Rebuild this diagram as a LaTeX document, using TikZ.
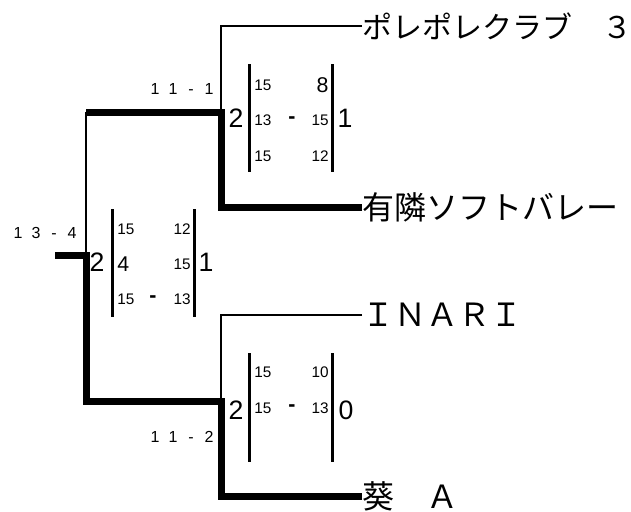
\documentclass[tikz,border=0pt]{standalone}
\usepackage{fontspec}
\setmainfont{Liberation Sans}
\newfontfamily\jp{Noto Sans CJK JP}
\newcommand{\gap}[1]{\makebox[13.5pt]{#1}}

\begin{document}
\begin{tikzpicture}[x=0.75pt, y=-0.75pt, semithick]
    \tikzstyle{team}=[anchor=west, inner sep=0pt, font=\jp\fontsize{24}{28}\selectfont]
    \tikzstyle{lose}=[line width=1pt]
    \tikzstyle{win}=[line width=5.25pt]
    \tikzstyle{bar}=[line width=2.25pt]
    \tikzstyle{big}=[inner sep=0pt, font=\fontsize{20}{24}\selectfont]
    \tikzstyle{mid}=[inner sep=0pt, font=\fontsize{16}{19}\selectfont]
    \tikzstyle{small}=[inner sep=0pt, font=\fontsize{11.5}{14}\selectfont]
    \tikzstyle{games}=[inner sep=0pt, font=\fontsize{12}{14}\selectfont]
    \useasboundingbox (0,0) rectangle (631,511);

    % teams
    \node[team, font=\jp\fontsize{22.5}{27}\selectfont] (t1) at (362,26) {ポレポレクラブ　３};
    \node[team] (t2) at (362,207) {有隣ソフトバレー};
    \node[team] (t3) at (362,315) {ＩＮＡＲＩ};
    \node[team] (t4) at (362,496) {葵　Ａ};

    % junctions
    \coordinate (s1)   at (221,112);
    \coordinate (s2)   at (221,401);
    \coordinate (f1)   at (86,112);
    \coordinate (f2)   at (86,401);
    \coordinate (f)    at (86,255);
    \coordinate (root) at (55,255);

    \draw[lose] (t1.west) -| (s1);
    \draw[lose] (t3.west) -| (s2);
    \draw[win]  (t2.west) -| (s1) -- (f1);
    \draw[lose] (f1) -- (f);
    \draw[win]  (t4.west) -| (s2) -- (f2) -- (f) -- (root);

    % final
    \node[games] (g_f) at (45,233) {\gap1\gap3\gap-\gap4};
    \draw[bar] (112,209) -- (112,317)  (194,209) -- (194,317);
    \node[big] (f_l) at (97,262)  {2};
    \node[big] (f_r) at (206,262) {1};
    \node[small, anchor=west] (f_11) at (117,229) {15};
    \node[small, anchor=east] (f_12) at (191,229) {12};
    \node[mid,   anchor=west] (f_21) at (117,264) {4};
    \node[small, anchor=east] (f_22) at (191,264) {15};
    \node[small, anchor=west] (f_31) at (117,299) {15};
    \node[mid]                (f_3d) at (153,299) {\textbf{-}};
    \node[small, anchor=east] (f_32) at (191,299) {13};

    % upper semifinal
    \node[games] (g_u) at (182,89) {\gap1\gap1\gap-\gap1};
    \draw[bar] (249,64) -- (249,172)  (332,64) -- (332,172);
    \node[big] (u_l) at (236,118) {2};
    \node[big] (u_r) at (345,118) {1};
    \node[small, anchor=west] (u_11) at (254,85)  {15};
    \node[mid,   anchor=east] (u_12) at (329,85)  {8};
    \node[small, anchor=west] (u_21) at (254,120) {13};
    \node[mid]                (u_2d) at (292,120) {\textbf{-}};
    \node[small, anchor=east] (u_22) at (329,120) {15};
    \node[small, anchor=west] (u_31) at (254,156) {15};
    \node[small, anchor=east] (u_32) at (329,156) {12};

    % lower semifinal
    \node[games] (g_l) at (182,437) {\gap1\gap1\gap-\gap2};
    \draw[bar] (249,353) -- (249,462)  (332,353) -- (332,462);
    \node[big] (l_l) at (236,410) {2};
    \node[big] (l_r) at (346,410) {0};
    \node[small, anchor=west] (l_11) at (254,372) {15};
    \node[small, anchor=east] (l_12) at (329,372) {10};
    \node[small, anchor=west] (l_21) at (254,408) {15};
    \node[mid]                (l_2d) at (292,408) {\textbf{-}};
    \node[small, anchor=east] (l_22) at (329,408) {13};
\end{tikzpicture}
\end{document}
